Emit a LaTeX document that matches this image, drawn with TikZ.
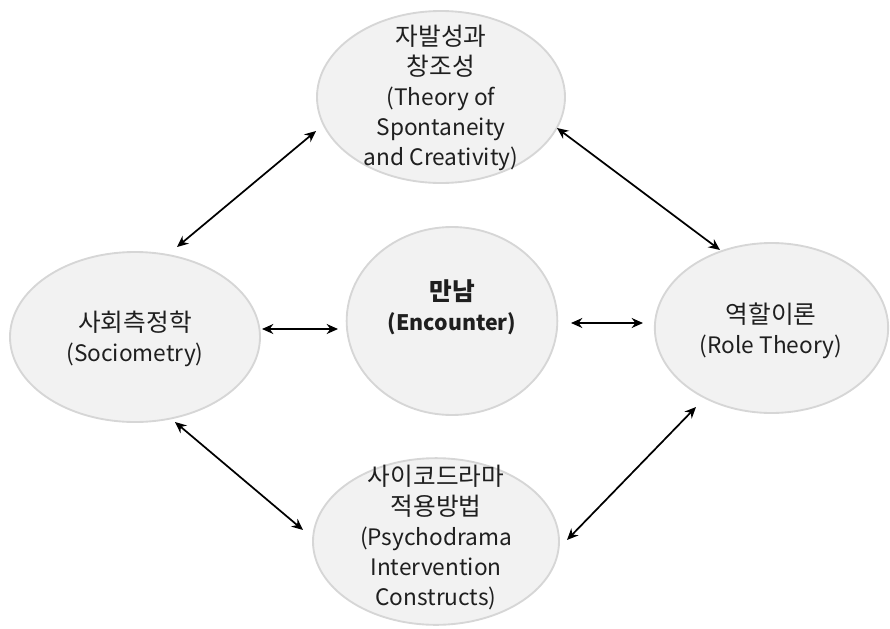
\documentclass[tikz,border=0pt]{standalone}
\usepackage{fontspec}
\setmainfont{Noto Sans CJK KR}
\usetikzlibrary{arrows.meta,shapes.geometric}
\newcommand{\kor}[1]{{\fontsize{18.5}{22.5}\selectfont #1}}
\begin{document}
\begin{tikzpicture}[x=0.75pt,y=-0.75pt,
  bub/.style={ellipse,draw=black!16,line width=1.4pt,fill=black!5,inner sep=0pt},
  lbl/.style={align=center,inner sep=0pt,font=\fontsize{17}{22.5}\selectfont,text=black!88},
  link/.style={{Stealth[length=8.5pt,width=7.5pt]}-{Stealth[length=8.5pt,width=7.5pt]},line width=1.3pt,black}]
\useasboundingbox (0,0) rectangle (890,629);
\node[bub,minimum width=186pt,minimum height=129pt] (top) at (441,97) {};
\node[bub,minimum width=158pt,minimum height=141pt] (mid) at (452,321) {};
\node[bub,minimum width=187.5pt,minimum height=127.5pt] (lft) at (135,337) {};
\node[bub,minimum width=175pt,minimum height=127.5pt] (rgt) at (771.5,328) {};
\node[bub,minimum width=184.5pt,minimum height=125pt] (bot) at (436,541.5) {};
\node[lbl] (toptxt) at (441,98) {\kor{자발성과}\\\kor{창조성}\\(Theory of\\Spontaneity\\and Creativity)};
\node[lbl,font=\fontsize{16}{22.5}\selectfont\bfseries] (midtxt) at (452,307) {\kor{만남}\\(Encounter)};
\node[lbl] (lfttxt) at (135,339) {\kor{사회측정학}\\(Sociometry)};
\node[lbl] (rgttxt) at (771,331) {\kor{역할이론}\\(Role Theory)};
\node[lbl] (bottxt) at (436,538) {\kor{사이코드라마}\\\kor{적용방법}\\(Psychodrama\\Intervention\\Constructs)};
\coordinate (a1) at (177,247); \coordinate (a2) at (316,131);
\coordinate (b1) at (557,128); \coordinate (b2) at (720,250);
\coordinate (c1) at (262,329); \coordinate (c2) at (338,329);
\coordinate (d1) at (571,323); \coordinate (d2) at (643,323);
\coordinate (e1) at (175,422); \coordinate (e2) at (303,530);
\coordinate (f1) at (567,540); \coordinate (f2) at (696,407);
\draw[link] (a1) -- (a2);
\draw[link] (b1) -- (b2);
\draw[link] (c1) -- (c2);
\draw[link] (d1) -- (d2);
\draw[link] (e1) -- (e2);
\draw[link] (f1) -- (f2);
\end{tikzpicture}
\end{document}
